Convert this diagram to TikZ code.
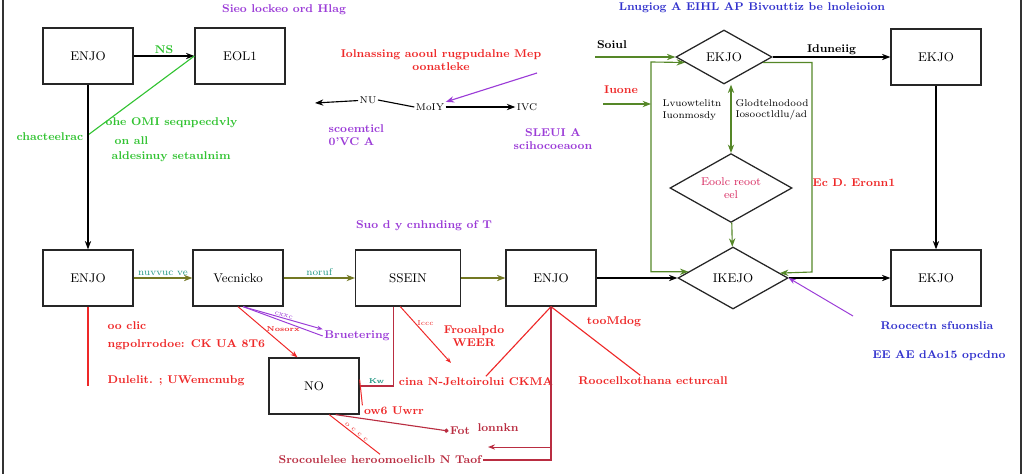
\documentclass[tikz,border=0pt]{standalone}
\usepackage{tikz}
\usetikzlibrary{arrows.meta,positioning,shapes.geometric}

\definecolor{lgreen}{RGB}{50,195,50}
\definecolor{flowgreen}{RGB}{115,120,35}
\definecolor{loopgreen}{RGB}{85,135,40}
\definecolor{lred}{RGB}{238,40,40}
\definecolor{dred}{RGB}{185,45,65}
\definecolor{lpink}{RGB}{215,40,95}
\definecolor{lpurple}{RGB}{155,60,215}
\definecolor{lblue}{RGB}{50,50,205}
\definecolor{lteal}{RGB}{30,150,130}

\tikzset{
  box/.style={draw=black!85, line width=0.9pt, minimum width=2.25cm, minimum height=1.4cm, inner sep=1pt, font=\small},
  dia/.style={draw=black!85, line width=0.9pt, diamond, aspect=1.8, inner sep=0pt, font=\small},
  lbl/.style={font=\footnotesize\bfseries, inner sep=1pt},
  smalllbl/.style={font=\scriptsize, inner sep=1pt},
  plainln/.style={line width=0.8pt},
  conn/.style={line width=0.8pt, -{Stealth[length=6pt]}},
}

\begin{document}
\begin{tikzpicture}[x=0.025cm, y=-0.025cm]
\useasboundingbox (0,0) rectangle (1024,474);
% Frame
\draw[line width=0.9pt, black!80] (3,0) -- (3,474);
\draw[line width=0.9pt, black!80] (1021,0) -- (1021,474);

% Boxes
\node[box] (enjoA) at (88,56) {ENJO};
\node[box] (eolB) at (240,56) {EOL1};
\node[box] (enjoC) at (88,278) {ENJO};
\node[box] (vecD) at (238,278) {Vecnicko};
\node[box, minimum width=2.62cm] (sseE) at (408,278) {SSEIN};
\node[box] (enjoF) at (551,278) {ENJO};
\node[box] (nobox) at (314,386) {NO};
\node[box] (ekjoI) at (936,57) {EKJO};
\node[box] (ekjoH) at (936,278) {EKJO};

% Diamonds
\node[dia, minimum width=2.4cm, minimum height=1.35cm] (diaT) at (724,57) {EKJO};
\node[dia, minimum width=3.05cm, minimum height=1.72cm, align=center, text=lpink, font=\footnotesize] (diaM) at (731,188) {Eoolc reoot\\eel};
\node[dia, minimum width=2.75cm, minimum height=1.55cm] (diaG) at (733,278) {IKEJO};

% Titles and free texts
\node[lbl, text=lpurple] (titleL) at (284,10) {Sieo lockeo ord Hlag};
\node[lbl, text=lblue] (titleR) at (752,8) {Lnugiog A EIHL AP Bivouttiz be lnoleioion};
\node[lbl, text=lred, align=center] (redTop) at (441,60) {Iolnassing aooul rugpudalne Mep\\oonatleke};
\node[lbl, text=lgreen] (chacL) at (50,137) {chacteelrac};
\node[lbl, text=lgreen, anchor=west] (oheL) at (104,123) {ohe OMI seqnpecdvly};
\node[lbl, text=lgreen, anchor=west] (onL) at (113,141) {on all};
\node[lbl, text=lgreen, anchor=west] (aldL) at (110,157) {aldesinuy setaulnim};
\node[lbl, text=lpurple, align=left, anchor=west] (scoL) at (327,135) {scoemticl\\0'VC A};
\node[lbl, text=lpurple, align=center] (sleL) at (553,139) {SLEUI A\\scihocoeaoon};
\node[lbl, text=lpurple] (suoL) at (424,226) {Suo d y cnhnding of T};
\node[lbl, text=lred, anchor=west] (ooL) at (106,326) {oo clic};
\node[lbl, text=lred, anchor=west] (ngL) at (106,345) {ngpolrrodoe: CK UA 8T6};
\node[lbl, text=lred, anchor=west] (dulL) at (106,381) {Dulelit. ; UWemcnubg};
\node[lbl, text=lpurple] (brL) at (357,336) {Bruetering};
\node[lbl, text=lred, align=center] (frL) at (474,336) {Frooalpdo\\WEER};
\node[lbl, text=lred] (cinaL) at (476,382) {cina N-Jeltoirolui CKMA};
\node[lbl, text=lred] (tooL) at (614,322) {tooMdog};
\node[lbl, text=lred] (roL) at (653,381) {Roocellxothana ecturcall};
\node[lbl, text=lred] (uwL) at (394,411) {ow6 Uwrr};
\node[lbl, text=dred] (fotL) at (460,431) {Fot};
\node[lbl, text=dred] (lonL) at (498,428) {lonnkn};
\node[lbl, text=dred] (srL) at (380,460) {Srocoulelee heroomoeliclb N Taof};
\node[lbl, text=black] (soL) at (612,45) {Soiul};
\node[lbl, text=lred] (iuL) at (621,90) {Iuone};
\node[smalllbl, align=left] (lvL) at (692,110) {Lvuowtelitn\\Iuonmosdy};
\node[smalllbl, align=left] (glL) at (772,110) {Glodtelnodood\\Iosooctldlu/ad};
\node[lbl, text=lred] (ecL) at (854,183) {Ec D. Eronn1};
\node[lbl, text=lblue] (rcL) at (937,326) {Roocectn sfuonslia};
\node[lbl, text=lblue] (eeL) at (939,356) {EE AE dAo15 opcdno};

% Small flow at the top
\node[smalllbl] (nuN) at (368,100) {NU};
\node[smalllbl] (moM) at (430,107) {MoIY};
\node[smalllbl] (ivI) at (527,107) {IVC};
\coordinate (nuEnd) at (315,103);
\coordinate (puTop) at (537,73);
\draw[conn] (nuN) -- (nuEnd);
\draw[plainln] (nuN.east) -- (moM.west);
\draw[conn] (moM.east) -- (ivI.west);
\draw[conn, lpurple] (puTop) -- (moM.north east);

% Left column
\draw[conn] (enjoA) -- (eolB) node[lbl, midway, above, text=lgreen] (nsL) {NS};
\coordinate (gA) at (88,135);
\draw[plainln, lgreen] (gA) -- (eolB.west);
\draw[conn] (enjoA) -- (enjoC);
\coordinate (rC) at (88,386);
\draw[plainln, lred] (enjoC) -- (rC);

% Main row
\draw[conn, flowgreen] (enjoC) -- (vecD) node[midway, above, smalllbl, text=lteal] (nuvL) {nuvvuc ve};
\draw[conn, flowgreen] (vecD) -- (sseE) node[midway, above, smalllbl, text=lteal] (norL) {noruf};
\draw[conn, flowgreen] (sseE) -- (enjoF);
\draw[conn] (enjoF) -- (diaG);
\draw[conn] (diaG) -- (ekjoH);

% Right part
\draw[conn] (diaT) -- (ekjoI) node[lbl, midway, above, text=black] (idL) {Iduneiig};
\draw[conn] (ekjoI) -- (ekjoH);
\draw[plainln, loopgreen, {Stealth[length=6pt]}-{Stealth[length=6pt]}] (diaM.north |- diaT.south) -- (diaM.north);
\draw[conn, loopgreen] (diaM) -- (diaG);
\coordinate (lpL) at (651,62);
\draw[plainln, loopgreen, {Stealth[length=6pt]}-{Stealth[length=6pt]}] (diaG.172) -| (lpL) -- (diaT.188);
\coordinate (rpR) at (812,272);
\draw[conn, loopgreen] (diaT.-8) -| (rpR) -- (diaG.6);
\coordinate (soS) at (595,57);
\draw[conn, loopgreen] (soS) -- (diaT.west);
\coordinate (iuS) at (603,104);
\draw[conn, loopgreen] (iuS) -- (lpL |- iuS);
\coordinate (puG) at (853,316);
\draw[line width=0.7pt, lpurple, -{Stealth[length=5pt]}] (puG) -- (diaG.east);

% Below the main row
\draw[line width=0.7pt, lred, -{Stealth[length=5pt]}] (vecD.south) -- (nobox.120) node[pos=0.45, right, font=\tiny\bfseries, inner sep=1pt] {Nosorx};
\draw[line width=0.7pt, lpurple, -{Stealth[length=4pt]}] (vecD.-80) -- (brL.north west) node[midway, sloped, above, font=\tiny, inner sep=0.5pt] {cxxc};
\draw[line width=0.7pt, lpurple] (vecD.-80) -- (brL.west);
\draw[plainln, dred] (sseE.-117) |- (nobox.east) node[pos=0.75, above, font=\tiny\bfseries, text=lteal, inner sep=1pt] {Kw};
\coordinate (frA) at (451,363);
\draw[line width=0.7pt, lred, -{Stealth[length=4pt]}] (sseE.-105) -- (frA) node[pos=0.3, right, font=\tiny, inner sep=1pt] {Iccc};
\draw[line width=0.7pt, lred] (nobox.8) -- (uwL.north west);
\draw[line width=0.8pt, dred, -{Circle[length=3pt]}] (nobox.-53) -- (fotL.west);
\draw[line width=0.7pt, lred] (nobox.-62) -- (srL.north) node[midway, sloped, above, font=\tiny, inner sep=0.5pt] {o c c c};
\draw[plainln, lred] (enjoF.south) -- (cinaL.30);
\draw[plainln, lred] (enjoF.south) -- (roL.156);
\draw[plainln, dred] (enjoF.south) |- (srL.east);
\coordinate (fBr) at (552,447);
\coordinate (fBl) at (488,447);
\draw[line width=0.7pt, dred, -{Stealth[length=5pt]}] (fBr) -- (fBl);
\end{tikzpicture}
\end{document}
